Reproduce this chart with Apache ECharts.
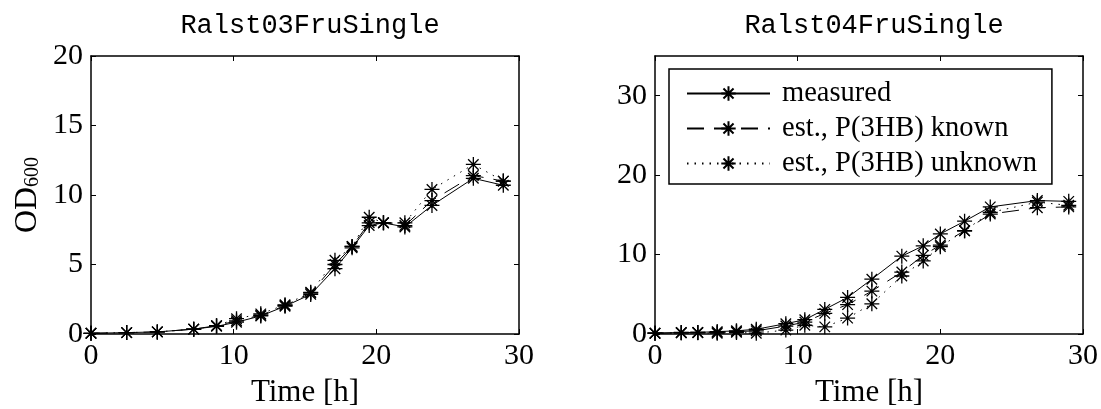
<!DOCTYPE html>
<html>
<head>
<meta charset="utf-8">
<title>OD600 Ralst03 / Ralst04</title>
<script src="https://cdn.jsdelivr.net/npm/echarts@6/dist/echarts.min.js"></script>
<style>
    html, body { margin: 0; padding: 0; background: #fff; }
    #chart { width: 1101px; height: 409px; }
</style>
</head>
<body>
<div id="chart"></div>
<script>
// Ralst03FruSingle (left panel)
var timeA    = [0, 2.5, 4.65, 7.2, 8.8, 10.2, 11.9, 13.6, 15.4, 17.1, 18.3, 19.5, 20.5, 22.0, 23.9, 26.8, 28.9];
var measA    = [0.05, 0.1, 0.15, 0.35, 0.55, 0.85, 1.3, 2.0, 2.85, 4.7, 6.2, 7.8, 8.0, 7.7, 9.25, 11.2, 10.7];
var knownA   = [0.05, 0.1, 0.15, 0.35, 0.6, 0.95, 1.35, 2.05, 2.95, 5.0, 6.3, 8.0, 8.0, 7.8, 9.6, 11.4, 11.0];
var unknownA = [0.05, 0.1, 0.15, 0.35, 0.6, 1.1, 1.45, 2.1, 3.0, 5.3, 6.3, 8.4, 8.0, 8.0, 10.4, 12.2, 11.0];

// Ralst04FruSingle (right panel)
var timeB    = [0, 1.84, 3.0, 4.36, 5.71, 7.1, 9.17, 10.5, 11.9, 13.5, 15.2, 17.3, 18.8, 20.0, 21.7, 23.5, 26.8, 29.0];
var measB    = [0.1, 0.2, 0.2, 0.3, 0.4, 0.6, 1.3, 1.8, 3.1, 4.6, 6.9, 9.8, 11.1, 12.6, 14.2, 16.0, 16.8, 16.7];
var knownB   = [0.1, 0.15, 0.2, 0.2, 0.3, 0.4, 1.0, 1.5, 2.6, 3.7, 5.4, 7.8, 9.9, 11.2, 13.0, 15.1, 15.9, 16.0];
var unknownB = [0.1, 0.15, 0.15, 0.1, 0.2, 0.1, 0.5, 1.1, 0.9, 2.0, 3.8, 7.3, 9.2, 11.0, 13.0, 15.3, 16.6, 16.2];

var titles = ['Ralst03FruSingle', 'Ralst04FruSingle'];
var seriesNames = ['measured', 'est., P(3HB) known', 'est., P(3HB) unknown'];
var xTicks = [0, 30, 10];      // min, max, interval
var yTicksA = [0, 20, 5];
var yTicksB = [0, 35, 10];

var serif = 'Liberation Serif';
var mono = 'Liberation Mono';
// 8 armed asterisk like the matlab '*' marker
var starPath = 'path://M5 0L5 10M0 5L10 5M1.5 1.5L8.5 8.5M8.5 1.5L1.5 8.5';
var lineTypes = ['solid', [17, 10], [1.5, 6]];

function pairs(xs, ys) {
    var out = [];
    for (var i = 0; i < xs.length; i++) {
        out.push([xs[i], ys[i]]);
    }
    return out;
}

function xAxisOf(grid, pos) {
    var main = pos === 'bottom';
    return {
        gridIndex: grid,
        type: 'value',
        position: pos,
        min: xTicks[0], max: xTicks[1], interval: xTicks[2],
        axisLine: { onZero: false, lineStyle: { color: '#000', width: 1.5 } },
        axisTick: { inside: true, length: 5, lineStyle: { color: '#000', width: 1 } },
        axisLabel: { show: main, color: '#000', fontFamily: serif, fontSize: 30, margin: 7 },
        splitLine: { show: false },
        name: main ? 'Time [h]' : '',
        nameLocation: 'middle',
        nameGap: 43,
        nameTextStyle: { color: '#000', fontFamily: serif, fontSize: 31 }
    };
}

function yAxisOf(grid, pos, ticks, withName) {
    var main = pos === 'left';
    return {
        gridIndex: grid,
        type: 'value',
        position: pos,
        min: ticks[0], max: ticks[1], interval: ticks[2],
        axisLine: { onZero: false, lineStyle: { color: '#000', width: 1.5 } },
        axisTick: { inside: true, length: 5, lineStyle: { color: '#000', width: 1 } },
        axisLabel: { show: main, color: '#000', fontFamily: serif, fontSize: 30, margin: 8, showMaxLabel: ticks[1] % ticks[2] === 0 },
        splitLine: { show: false },
        name: withName ? '{a|OD}{b|600}' : '',
        nameLocation: 'middle',
        nameGap: 48,
        nameTextStyle: {
            color: '#000',
            rich: {
                a: { fontFamily: serif, fontSize: 32, lineHeight: 30, color: '#000' },
                b: { fontFamily: serif, fontSize: 20, lineHeight: 12, verticalAlign: 'bottom', color: '#000' }
            }
        }
    };
}

function lineSeries(name, idx, grid, xs, ys) {
    return {
        name: name,
        type: 'line',
        xAxisIndex: grid * 2,
        yAxisIndex: grid * 2,
        data: pairs(xs, ys),
        symbol: starPath,
        symbolSize: 15,
        symbolKeepAspect: true,
        clip: false,
        animation: false,
        lineStyle: { color: '#000', width: 1, type: lineTypes[idx] },
        itemStyle: { color: '#000', borderColor: '#000', borderWidth: 1.3 },
        emphasis: { disabled: true }
    };
}

var chart = echarts.init(document.getElementById('chart'), null, { renderer: 'canvas' });

var option = {
    backgroundColor: '#fff',
    animation: false,
    title: [
        { text: titles[0], left: 305, top: 7, textAlign: 'center',
          textStyle: { fontFamily: mono, fontSize: 27, fontWeight: 'normal', color: '#000' } },
        { text: titles[1], left: 869, top: 7, textAlign: 'center',
          textStyle: { fontFamily: mono, fontSize: 27, fontWeight: 'normal', color: '#000' } }
    ],
    grid: [
        { left: 91, top: 56, width: 428, height: 278, outerBoundsMode: 'none', containLabel: false },
        { left: 655, top: 56, width: 428, height: 278, outerBoundsMode: 'none', containLabel: false }
    ],
    legend: {
        data: seriesNames,
        orient: 'vertical',
        left: 669,
        top: 69,
        padding: [10, 15, 6, 17],
        itemGap: 6,
        itemWidth: 83,
        itemHeight: 18,
        borderColor: '#000',
        borderWidth: 1.5,
        backgroundColor: '#fff',
        selectedMode: false,
        textStyle: { fontFamily: serif, fontSize: 28.5, lineHeight: 28, color: '#000', padding: [0, 0, 0, 7] }
    },
    xAxis: [
        xAxisOf(0, 'bottom'), xAxisOf(0, 'top'),
        xAxisOf(1, 'bottom'), xAxisOf(1, 'top')
    ],
    yAxis: [
        yAxisOf(0, 'left', yTicksA, true), yAxisOf(0, 'right', yTicksA, false),
        yAxisOf(1, 'left', yTicksB, false), yAxisOf(1, 'right', yTicksB, false)
    ],
    series: [
        lineSeries(seriesNames[0], 0, 0, timeA, measA),
        lineSeries(seriesNames[1], 1, 0, timeA, knownA),
        lineSeries(seriesNames[2], 2, 0, timeA, unknownA),
        lineSeries(seriesNames[0], 0, 1, timeB, measB),
        lineSeries(seriesNames[1], 1, 1, timeB, knownB),
        lineSeries(seriesNames[2], 2, 1, timeB, unknownB)
    ]
};

chart.setOption(option);
</script>
</body>
</html>
